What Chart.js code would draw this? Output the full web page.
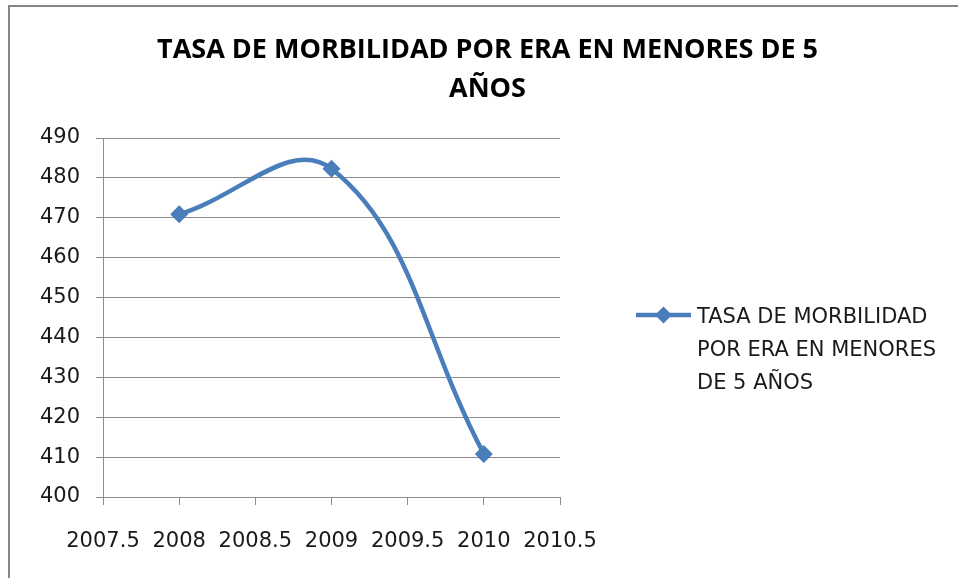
<!DOCTYPE html>
<html>
<head>
<meta charset="utf-8">
<script src="https://cdn.jsdelivr.net/npm/chart.js@4/dist/chart.umd.min.js"></script>
<style>html,body{margin:0;padding:0;background:#fff}canvas{display:block}</style>
</head>
<body>
<canvas id="c" width="958" height="578"></canvas>
<script>
// ---- data ----
const titleLines = ['TASA DE MORBILIDAD POR ERA EN MENORES DE 5', 'AÑOS'];
const seriesName = 'TASA DE MORBILIDAD POR ERA EN MENORES DE 5 AÑOS';
const legendLines = ['TASA DE MORBILIDAD', 'POR ERA EN MENORES', 'DE 5 AÑOS'];
const years = [2008, 2009, 2010];
const rates = [470.9, 482.3, 410.8];
const xTickLabels = ['2007.5', '2008', '2008.5', '2009', '2009.5', '2010', '2010.5'];
const yTickLabels = ['400', '410', '420', '430', '440', '450', '460', '470', '480', '490'];

const lineColor = '#4A7EBB';
const gridColor = '#8c8c8c';
const textColor = '#1a1a1a';
const tickFont = { family: 'DejaVu Sans', size: 21 };

const deco = {
  id: 'deco',
  beforeDraw(chart) {
    const ctx = chart.ctx;
    ctx.save();
    ctx.fillStyle = '#ffffff';
    ctx.fillRect(0, 0, chart.width, chart.height);
    ctx.strokeStyle = '#868686';
    ctx.lineWidth = 2;
    ctx.beginPath();
    ctx.moveTo(9, chart.height + 5);
    ctx.lineTo(9, 6);
    ctx.lineTo(chart.width + 5, 6);
    ctx.stroke();
    ctx.restore();
  },
  afterDraw(chart) {
    const ctx = chart.ctx;
    ctx.save();
    // title
    ctx.fillStyle = '#000';
    ctx.font = 'bold 27px "Open Sans"';
    ctx.textAlign = 'center';
    ctx.textBaseline = 'alphabetic';
    ctx.fillText(titleLines[0], 487.5, 58);
    ctx.fillText(titleLines[1], 487.5, 97);
    // legend
    const ly = 315;
    ctx.strokeStyle = lineColor;
    ctx.lineWidth = 4.5;
    ctx.beginPath();
    ctx.moveTo(636, ly);
    ctx.lineTo(691, ly);
    ctx.stroke();
    ctx.fillStyle = lineColor;
    const r = 8.5, cx = 663.5;
    ctx.beginPath();
    ctx.moveTo(cx - r, ly);
    ctx.lineTo(cx, ly - r);
    ctx.lineTo(cx + r, ly);
    ctx.lineTo(cx, ly + r);
    ctx.closePath();
    ctx.fill();
    ctx.fillStyle = textColor;
    ctx.font = '21px "DejaVu Sans"';
    ctx.textAlign = 'left';
    legendLines.forEach((t, i) => ctx.fillText(t, 697, 323 + i * 33));
    ctx.restore();
  }
};

new Chart(document.getElementById('c'), {
  type: 'line',
  data: {
    datasets: [{
      label: seriesName,
      data: years.map((x, i) => ({ x: x, y: rates[i] })),
      borderColor: lineColor,
      backgroundColor: lineColor,
      borderWidth: 4.5,
      tension: 0.4,
      pointStyle: 'rectRot',
      pointRadius: 9,
      pointBorderWidth: 0,
      pointBackgroundColor: lineColor,
      fill: false
    }]
  },
  options: {
    responsive: false,
    animation: false,
    devicePixelRatio: 1,
    elements: { line: { capBezierPoints: false } },
    layout: { padding: { left: 0, top: 138, right: 398, bottom: 0 } },
    plugins: { legend: { display: false }, title: { display: false }, tooltip: { enabled: false } },
    scales: {
      x: {
        type: 'linear',
        min: 2007.5,
        max: 2010.5,
        ticks: {
          stepSize: 0.5,
          autoSkip: false,
          maxRotation: 0,
          padding: 24,
          color: textColor,
          font: tickFont,
          callback: (v, i) => xTickLabels[i]
        },
        grid: { drawOnChartArea: false, drawTicks: true, tickLength: 8, color: gridColor, lineWidth: 1 },
        border: { display: true, color: gridColor, width: 1 },
        afterFit(s) { s.height = 81; }
      },
      y: {
        min: 400,
        max: 490,
        ticks: {
          stepSize: 10,
          padding: 16,
          color: textColor,
          font: tickFont,
          callback: (v, i) => yTickLabels[i]
        },
        grid: { drawOnChartArea: true, drawTicks: true, tickLength: 7, color: gridColor, lineWidth: 1 },
        border: { display: true, color: gridColor, width: 1 },
        afterFit(s) { s.width = 103; }
      }
    }
  },
  plugins: [deco]
});
</script>
</body>
</html>
